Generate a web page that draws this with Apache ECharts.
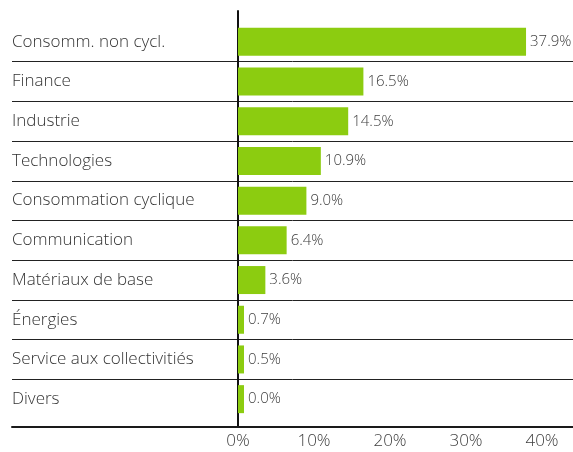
<!DOCTYPE html>
<html>
<head>
<meta charset="utf-8">
<script src="https://cdn.jsdelivr.net/npm/echarts@6/dist/echarts.min.js"></script>
<style>
  html, body { margin: 0; padding: 0; background: #fff; }
  #myChart { width: 573px; height: 452px; }
</style>
</head>
<body>
<div id="myChart"></div>
<script>
// secteurs et poids (%)
const categories = [
  'Consomm. non cycl.',
  'Finance',
  'Industrie',
  'Technologies',
  'Consommation cyclique',
  'Communication',
  'Matériaux de base',
  'Énergies',
  'Service aux collectivitiés',
  'Divers'
]
const weights = [37.9, 16.5, 14.5, 10.9, 9.0, 6.4, 3.6, 0.7, 0.5, 0.0]
const tickValues = [0, 10, 20, 30, 40]

const FONT = 'Open Sans'
const myChart = echarts.init(document.getElementById('myChart'))

const option = {
  animation: false,
  grid: [
    // fond : libellés + séparateurs
    { left: 12, right: 0, top: 22, bottom: 33 },
    // barres
    { left: 238, right: 31, top: 22, bottom: 33 },
    // trait vertical
    { left: 238, width: 1, top: 11, bottom: 25 }
  ],
  xAxis: [
    {
      gridIndex: 0,
      type: 'value',
      min: 0,
      max: 1,
      offset: 8,
      axisLine: { show: true, lineStyle: { color: '#1a1a1a', width: 2 } },
      axisTick: { show: false },
      axisLabel: { show: false },
      splitLine: { show: false }
    },
    {
      gridIndex: 1,
      type: 'value',
      min: 0,
      max: tickValues[tickValues.length - 1],
      interval: 10,
      offset: 8,
      axisLine: { show: false },
      axisTick: { show: false },
      splitLine: { show: false },
      axisLabel: {
        margin: 6,
        formatter: '{value}%',
        color: '#404040',
        fontFamily: FONT,
        fontWeight: 300,
        fontSize: 17
      }
    },
    {
      gridIndex: 2,
      type: 'value',
      show: false
    }
  ],
  yAxis: [
    {
      gridIndex: 0,
      type: 'category',
      inverse: true,
      data: categories,
      axisLine: { show: false },
      axisTick: { show: false },
      axisLabel: {
        inside: true,
        margin: 0,
        color: '#333333',
        fontFamily: FONT,
        fontWeight: 300,
        fontSize: 17
      },
      splitLine: {
        show: true,
        showMinLine: false,
        showMaxLine: false,
        lineStyle: { color: '#222222', width: 1 }
      }
    },
    {
      gridIndex: 1,
      type: 'category',
      inverse: true,
      data: categories,
      axisLine: { show: false },
      axisTick: { show: false },
      axisLabel: { show: false }
    },
    {
      gridIndex: 2,
      type: 'value',
      min: 0,
      max: 1,
      axisLine: { show: true, lineStyle: { color: '#111111', width: 2 } },
      axisTick: { show: false },
      axisLabel: { show: false },
      splitLine: { show: false }
    }
  ],
  series: [
    {
      name: 'Poids',
      type: 'bar',
      xAxisIndex: 1,
      yAxisIndex: 1,
      data: weights,
      barWidth: 28,
      barMinHeight: 6,
      itemStyle: { color: '#8ccc10' },
      label: {
        show: true,
        position: 'right',
        distance: 4,
        formatter: (p) => p.value.toFixed(1) + '%',
        color: '#404040',
        fontFamily: FONT,
        fontWeight: 300,
        fontSize: 15
      }
    }
  ]
}
myChart.setOption(option)
</script>
</body>
</html>
